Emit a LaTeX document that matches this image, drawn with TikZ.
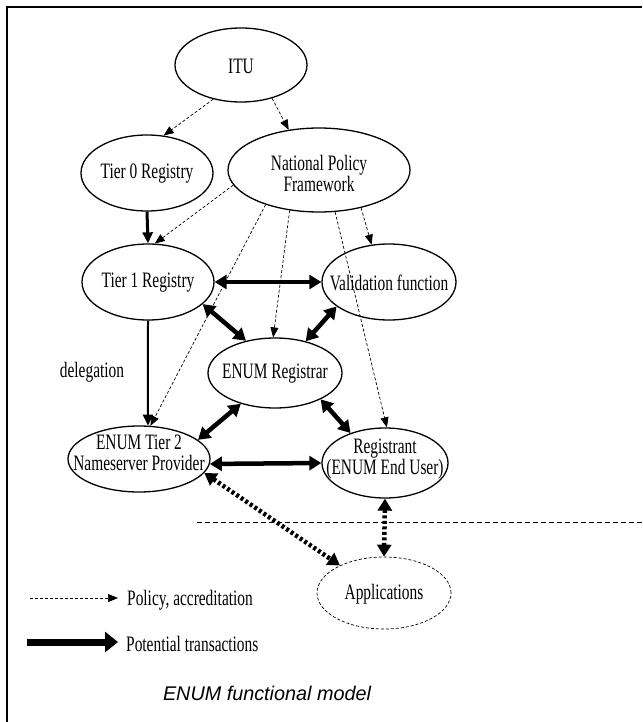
\documentclass[tikz,border=0pt]{standalone}
\usepackage{fontspec}
\setmainfont{Liberation Serif}
\newfontfamily\nodefont[FakeStretch=0.7]{Liberation Serif}
\newfontfamily\capfont{Liberation Sans}
\usetikzlibrary{shapes.geometric,arrows.meta}
\tikzset{
  ell/.style={draw, ellipse, line width=1.3pt, inner sep=0pt},
  lbl/.style={font=\nodefont\fontsize{22}{21}\selectfont, align=center, inner sep=0pt},
  pol/.style={line width=0.7pt, dash pattern=on 3pt off 2pt, -{Triangle[length=10pt,width=8pt]}},
  trans/.style={line width=4.5pt, {Triangle[length=12pt,width=14pt]}-{Triangle[length=12pt,width=14pt]}},
  dottrans/.style={line width=4.5pt, dash pattern=on 3pt off 2.5pt, {Triangle[length=12pt,width=14pt]}-{Triangle[length=12pt,width=14pt]}},
  solidarr/.style={line width=#1, -{Triangle[length=11pt,width=10pt]}},
}
\begin{document}
\begin{tikzpicture}[x=1pt,y=-1pt]
\useasboundingbox (0,0) rectangle (642,722);
% frame
\draw[line width=1.5pt] (7,722) -- (7,7) -- (642,7);

% ellipses
\node[ell, minimum width=132pt, minimum height=74pt] (itu) at (241,65) {};
\node[ell, minimum width=132pt, minimum height=76pt] (t0) at (147,173) {};
\node[ell, minimum width=182pt, minimum height=84pt] (npf) at (319,170) {};
\node[ell, minimum width=132pt, minimum height=76pt] (t1) at (148,282) {};
\node[ell, minimum width=134pt, minimum height=76pt] (val) at (389,282) {};
\node[ell, minimum width=134pt, minimum height=70pt] (rar) at (275,373) {};
\node[ell, minimum width=142pt, minimum height=66pt] (t2) at (139,459) {};
\node[ell, minimum width=126pt, minimum height=70pt] (reg) at (385,463) {};
\node[ell, line width=0.7pt, dash pattern=on 3pt off 2pt, minimum width=134pt, minimum height=72pt] (app) at (384,593) {};

% texts
\node[lbl] (itu-t) at (241,66) {ITU};
\node[lbl] (t0-t) at (147,174) {Tier 0 Registry};
\node[lbl] (npf-t) at (319,173) {National Policy\\Framework};
\node[lbl] (t1-t) at (148,283) {Tier 1 Registry};
\node[lbl] (val-t) at (389,283) {Validation function};
\node[lbl] (rar-t) at (275,374) {ENUM Registrar};
\node[lbl] (t2-t) at (139,453) {ENUM Tier 2\\Nameserver Provider};
\node[lbl] (reg-t) at (385,459) {Registrant\\(ENUM End User)};
\node[lbl] (app-t) at (384,594) {Applications};
\node[lbl] (del) at (92,372) {delegation};

% policy arrows
\draw[pol] (itu.231) -- (t0.66);
\draw[pol] (itu.313) -- (npf.127);
\draw[pol] (npf.190) -- (t1.80);
\draw[pol] (npf.213) -- (t2.71);
\draw[pol] (npf.234) -- (rar.93);
\draw[pol] (npf.291) -- (reg.87);
\draw[pol] (npf.318) -- (val.115);

% solid arrows
\draw[solidarr=3pt] (t0.south) -- (t1.north);
\draw[solidarr=2pt] (t1.south) -- (t2.75);

% transactions
\draw[trans] (t1.east) -- (val.west);
\draw[trans] (t1.338) -- (rar.132);
\draw[trans] (val.205) -- (rar.46);
\draw[trans] (rar.222) -- (t2.18);
\draw[trans] (rar.330) -- (reg.139);
\draw[trans] (t2.-4) -- (reg.west);
\draw[dottrans] (t2.348) -- (app.148);
\draw[dottrans] (reg.south) -- (app.north);

% boundary line
\coordinate (hl1) at (197,522);
\coordinate (hl2) at (642,522);
\draw[line width=0.7pt, dash pattern=on 5pt off 3pt] (hl1) -- (hl2);

% legend
\coordinate (lg1a) at (30,598);
\coordinate (lg1b) at (118,598);
\draw[pol] (lg1a) -- (lg1b);
\node[lbl, anchor=west] (lg1t) at (127,600) {Policy, accreditation};
\coordinate (lg2a) at (27,642);
\coordinate (lg2b) at (118,642);
\draw[line width=7pt, -{Triangle[length=13pt,width=20pt]}] (lg2a) -- (lg2b);
\node[lbl, anchor=west] (lg2t) at (126,644) {Potential transactions};

% caption
\node[font=\capfont\itshape\fontsize{19.8}{22}\selectfont, inner sep=0pt] (cap) at (267,693) {ENUM functional model};
\end{tikzpicture}
\end{document}
